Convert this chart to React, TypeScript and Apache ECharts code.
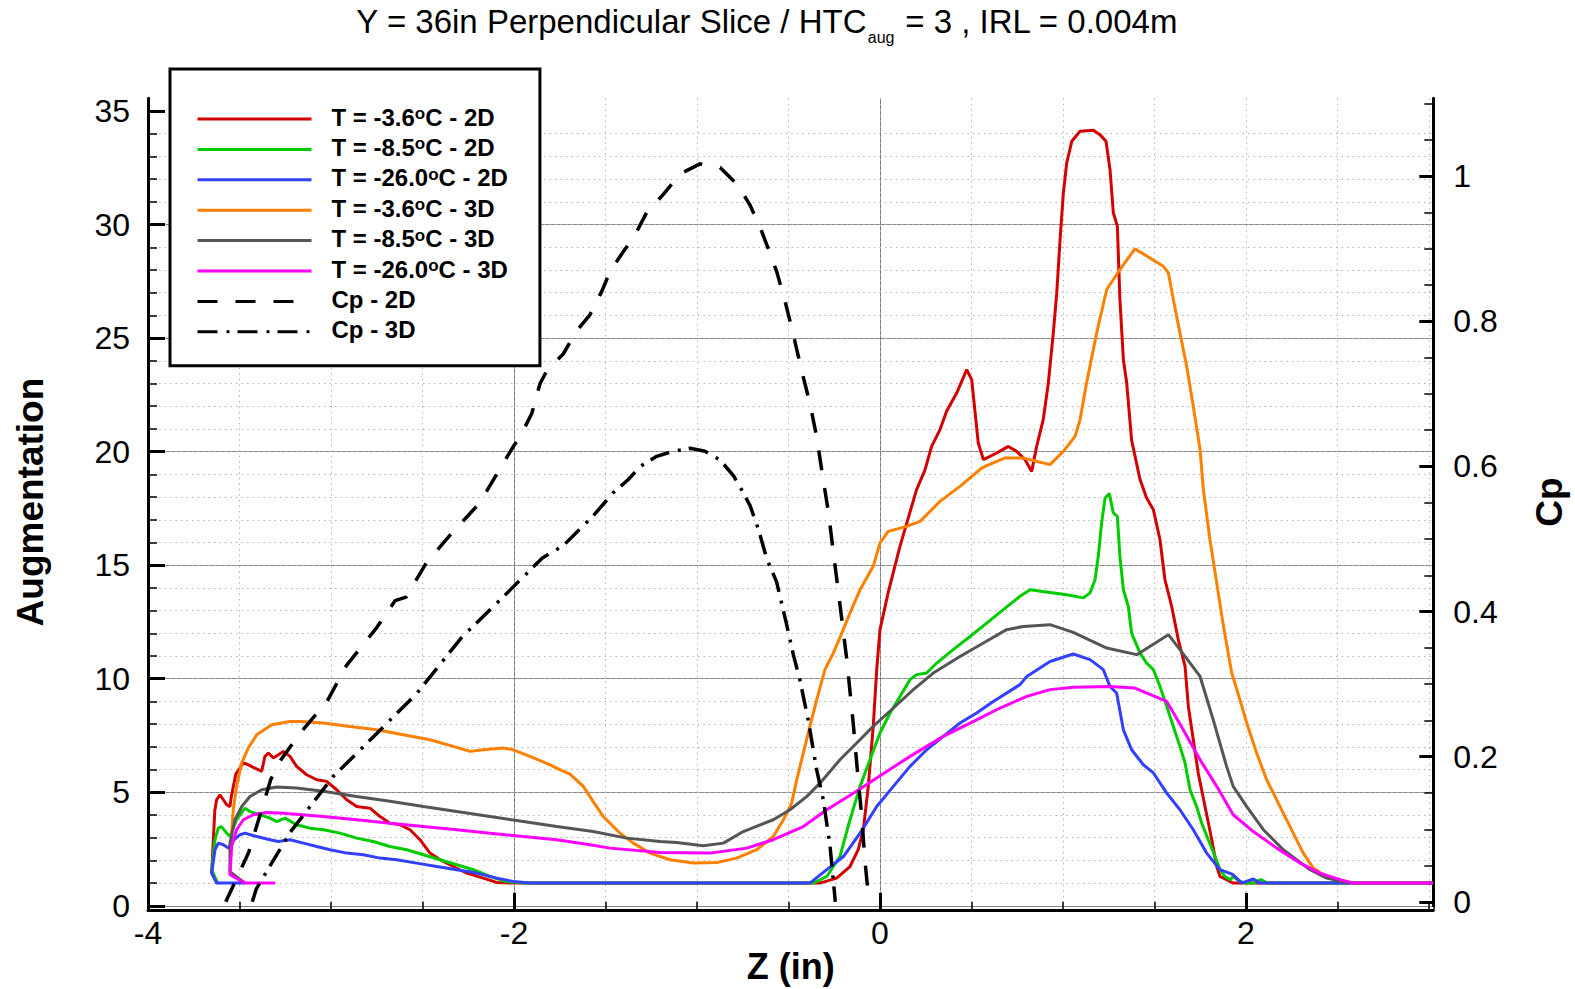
import React, { useEffect, useRef } from 'react';
import * as echarts from 'echarts';

const FONT = '"Liberation Sans", Arial, Helvetica, sans-serif';

// axis extents
const X_MIN = -4;
const X_MAX = 3.0235;
const Y_MAX = 35.56;
const CP_MIN = -0.00546;
const CP_MAX = 1.1074;

const majorX = [-4, -2, 0, 2];
const majorY = [0, 5, 10, 15, 20, 25, 30, 35];
const majorCp = [0, 0.2, 0.4, 0.6, 0.8, 1];
const minorY = Array.from({ length: 36 }, (_, i) => i);
const minorCp = Array.from({ length: 23 }, (_, i) => +(i * 0.05).toFixed(2));

const seriesNames = [
  'T = -3.6°C - 2D',
  'T = -8.5°C - 2D',
  'T = -26.0°C - 2D',
  'T = -3.6°C - 3D',
  'T = -8.5°C - 3D',
  'T = -26.0°C - 3D',
  'Cp - 2D',
  'Cp - 3D',
];
const seriesColors = ['#d40000', '#00cc00', '#3340ff', '#ff8000', '#555555', '#ff00ff', '#000000', '#000000'];

const red2D: number[][] = [
  [-3.62, 1.0], [-3.652, 1.44], [-3.635, 4.2], [-3.625, 4.67], [-3.607, 4.89], [-3.57, 4.45], [-3.552, 4.37],
  [-3.545, 4.8], [-3.52, 5.8], [-3.479, 6.29], [-3.452, 6.21], [-3.379, 5.92], [-3.361, 6.58], [-3.342, 6.73],
  [-3.315, 6.51], [-3.26, 6.8], [-3.224, 6.58], [-3.188, 6.14], [-3.133, 5.77], [-3.078, 5.55], [-3.024, 5.48],
  [-2.969, 5.11], [-2.914, 4.67], [-2.86, 4.37], [-2.787, 4.3], [-2.732, 3.93], [-2.678, 3.64], [-2.623, 3.57],
  [-2.568, 3.35], [-2.514, 2.91], [-2.459, 2.32], [-2.404, 2.03], [-2.332, 1.73], [-2.258, 1.44], [-2.168, 1.22],
  [-2.095, 1.03], [-2.022, 1.0], [-0.328, 1.0], [-0.237, 1.22], [-0.164, 1.73], [-0.119, 2.47], [-0.091, 3.35],
  [-0.064, 5.26], [-0.037, 7.9], [-0.018, 10.4], [0.0, 12.16], [0.045, 13.8], [0.109, 15.83], [0.2, 18.33],
  [0.246, 19.2], [0.282, 20.23], [0.328, 20.97], [0.364, 21.78], [0.419, 22.58], [0.474, 23.61], [0.501, 23.17],
  [0.537, 20.38], [0.565, 19.65], [0.638, 19.94], [0.701, 20.23], [0.747, 20.01], [0.792, 19.65], [0.829, 19.13],
  [0.856, 20.23], [0.892, 21.41], [0.92, 23.03], [0.947, 25.23], [0.966, 27.0], [0.984, 29.34], [1.002, 31.4],
  [1.02, 32.7], [1.048, 33.67], [1.093, 34.11], [1.166, 34.15], [1.202, 33.96], [1.235, 33.67], [1.257, 32.42],
  [1.275, 30.52], [1.297, 29.93], [1.311, 26.7], [1.33, 24.05], [1.348, 23.03], [1.375, 20.5], [1.421, 18.77],
  [1.457, 17.96], [1.494, 17.44], [1.53, 16.12], [1.557, 14.36], [1.594, 13.18], [1.63, 11.72], [1.667, 10.54],
  [1.685, 8.78], [1.712, 7.31], [1.739, 5.85], [1.776, 4.37], [1.813, 2.91], [1.84, 1.73], [1.858, 1.29],
  [1.894, 1.15], [1.93, 1.0], [3.02, 1.0],
];

const green2D: number[][] = [
  [-3.62, 1.0], [-3.652, 1.59], [-3.634, 2.91], [-3.616, 3.42], [-3.598, 3.49], [-3.57, 3.2], [-3.552, 3.05],
  [-3.516, 3.79], [-3.47, 4.3], [-3.443, 4.15], [-3.388, 4.01], [-3.333, 3.86], [-3.297, 3.71], [-3.251, 3.86],
  [-3.188, 3.57], [-3.115, 3.42], [-3.042, 3.35], [-2.951, 3.2], [-2.86, 2.98], [-2.769, 2.83], [-2.678, 2.61],
  [-2.586, 2.47], [-2.495, 2.25], [-2.404, 2.03], [-2.313, 1.81], [-2.222, 1.59], [-2.131, 1.29], [-2.04, 1.07],
  [-1.949, 1.0], [-0.364, 1.0], [-0.291, 1.29], [-0.219, 2.17], [-0.164, 3.79], [-0.109, 5.26], [-0.055, 6.43],
  [0.0, 7.61], [0.055, 8.49], [0.109, 9.22], [0.164, 9.96], [0.2, 10.18], [0.255, 10.25], [0.31, 10.69],
  [0.4, 11.28], [0.492, 11.86], [0.583, 12.45], [0.674, 13.04], [0.765, 13.63], [0.82, 13.92], [0.929, 13.8],
  [1.02, 13.7], [1.111, 13.56], [1.148, 13.78], [1.175, 14.36], [1.193, 15.39], [1.211, 16.86], [1.23, 17.96],
  [1.253, 18.15], [1.275, 17.3], [1.297, 17.15], [1.311, 15.39], [1.33, 13.92], [1.357, 13.18], [1.375, 12.01],
  [1.421, 11.13], [1.457, 10.69], [1.494, 10.4], [1.53, 9.66], [1.567, 8.78], [1.603, 7.9], [1.639, 7.02],
  [1.667, 6.29], [1.694, 5.11], [1.73, 4.37], [1.758, 3.64], [1.794, 2.91], [1.831, 2.17], [1.858, 1.59],
  [1.885, 1.29], [1.913, 1.15], [1.93, 1.29], [1.967, 1.07], [2.0, 1.0], [2.04, 1.0], [2.08, 1.15], [2.12, 1.0],
  [3.02, 1.0],
];

const blue2D: number[][] = [
  [-3.47, 1.0], [-3.625, 1.0], [-3.652, 1.44], [-3.634, 2.47], [-3.616, 2.76], [-3.588, 2.69], [-3.561, 2.54],
  [-3.53, 2.9], [-3.497, 3.13], [-3.47, 3.2], [-3.406, 3.05], [-3.333, 2.91], [-3.288, 2.83], [-3.224, 2.91],
  [-3.151, 2.76], [-3.078, 2.61], [-3.005, 2.47], [-2.914, 2.32], [-2.823, 2.25], [-2.732, 2.1], [-2.641, 2.03],
  [-2.532, 1.88], [-2.422, 1.73], [-2.313, 1.59], [-2.204, 1.44], [-2.095, 1.22], [-2.004, 1.07], [-1.913, 1.0],
  [-0.383, 1.0], [-0.291, 1.59], [-0.2, 2.17], [-0.109, 3.2], [-0.018, 4.37], [0.073, 5.26], [0.164, 6.14],
  [0.255, 6.87], [0.346, 7.46], [0.437, 8.05], [0.528, 8.49], [0.619, 9.0], [0.765, 9.74], [0.802, 10.1],
  [0.929, 10.76], [1.056, 11.09], [1.148, 10.84], [1.22, 10.4], [1.257, 9.66], [1.293, 9.37], [1.33, 7.75],
  [1.375, 6.87], [1.439, 6.21], [1.494, 5.85], [1.567, 4.96], [1.639, 4.23], [1.712, 3.35], [1.785, 2.32],
  [1.858, 1.59], [1.93, 1.37], [1.976, 1.0], [2.04, 1.18], [2.077, 1.0], [3.02, 1.0],
];

const orange3D: number[][] = [
  [-3.47, 1.0], [-3.552, 1.44], [-3.543, 3.2], [-3.534, 4.23], [-3.516, 5.26], [-3.488, 6.29], [-3.452, 6.95],
  [-3.406, 7.53], [-3.324, 7.97], [-3.224, 8.12], [-3.169, 8.12], [-3.042, 8.05], [-2.896, 7.9], [-2.75, 7.75],
  [-2.605, 7.53], [-2.459, 7.31], [-2.332, 7.02], [-2.24, 6.8], [-2.168, 6.87], [-2.058, 6.95], [-2.004, 6.87],
  [-1.913, 6.58], [-1.803, 6.21], [-1.749, 6.0], [-1.694, 5.8], [-1.621, 5.26], [-1.585, 4.81], [-1.512, 3.93],
  [-1.421, 3.2], [-1.348, 2.76], [-1.257, 2.32], [-1.148, 2.03], [-1.02, 1.88], [-0.892, 1.91], [-0.783, 2.1],
  [-0.674, 2.47], [-0.583, 3.05], [-0.528, 3.79], [-0.483, 4.52], [-0.455, 5.55], [-0.419, 6.73], [-0.383, 7.9],
  [-0.346, 9.07], [-0.301, 10.4], [-0.255, 11.13], [-0.209, 12.01], [-0.164, 12.89], [-0.109, 13.92],
  [-0.037, 14.95], [0.0, 15.98], [0.045, 16.49], [0.146, 16.71], [0.219, 16.93], [0.328, 17.81], [0.437, 18.47],
  [0.556, 19.28], [0.683, 19.72], [0.783, 19.72], [0.929, 19.43], [1.002, 20.01], [1.066, 20.67], [1.093, 21.41],
  [1.129, 23.03], [1.184, 25.23], [1.239, 27.14], [1.311, 28.02], [1.393, 28.93], [1.475, 28.53], [1.548, 28.16],
  [1.576, 27.87], [1.603, 26.7], [1.639, 25.23], [1.676, 23.76], [1.712, 22.0], [1.749, 20.09], [1.767, 18.33],
  [1.803, 16.12], [1.84, 14.22], [1.877, 12.3], [1.922, 10.25], [1.967, 9.07], [2.004, 8.05], [2.058, 6.73],
  [2.113, 5.55], [2.186, 4.37], [2.258, 3.2], [2.313, 2.32], [2.368, 1.66], [2.422, 1.37], [2.496, 1.15],
  [2.586, 1.0], [3.02, 1.0],
];

const gray3D: number[][] = [
  [-3.47, 1.0], [-3.552, 1.5], [-3.552, 2.76], [-3.525, 3.79], [-3.488, 4.37], [-3.443, 4.81], [-3.379, 5.11],
  [-3.297, 5.23], [-3.188, 5.19], [-3.042, 5.04], [-2.86, 4.81], [-2.678, 4.6], [-2.495, 4.37], [-2.313, 4.15],
  [-2.131, 3.93], [-1.949, 3.71], [-1.767, 3.49], [-1.567, 3.27], [-1.384, 2.98], [-1.202, 2.83], [-1.111, 2.79],
  [-0.966, 2.64], [-0.856, 2.76], [-0.747, 3.27], [-0.583, 3.79], [-0.492, 4.23], [-0.401, 4.81], [-0.328, 5.4],
  [-0.219, 6.43], [-0.127, 7.17], [-0.037, 7.9], [0.073, 8.71], [0.182, 9.52], [0.291, 10.25], [0.437, 10.98],
  [0.565, 11.57], [0.692, 12.16], [0.783, 12.3], [0.929, 12.38], [1.056, 12.04], [1.239, 11.35], [1.403, 11.06],
  [1.576, 11.94], [1.639, 11.28], [1.749, 10.1], [1.821, 8.19], [1.894, 6.14], [1.93, 5.26], [2.004, 4.37],
  [2.095, 3.35], [2.204, 2.47], [2.35, 1.59], [2.441, 1.22], [2.55, 1.03], [2.6, 1.0], [3.02, 1.0],
];

const magenta3D: number[][] = [
  [-3.306, 1.0], [-3.47, 1.0], [-3.552, 1.37], [-3.543, 2.61], [-3.516, 3.35], [-3.479, 3.79], [-3.424, 4.01],
  [-3.352, 4.11], [-3.26, 4.08], [-3.042, 3.93], [-2.86, 3.79], [-2.678, 3.64], [-2.495, 3.49], [-2.313, 3.35],
  [-2.131, 3.2], [-1.949, 3.05], [-1.767, 2.91], [-1.585, 2.69], [-1.475, 2.54], [-1.202, 2.35], [-0.929, 2.32],
  [-0.728, 2.54], [-0.583, 2.91], [-0.419, 3.49], [-0.291, 4.23], [-0.146, 4.96], [-0.018, 5.63], [0.164, 6.58],
  [0.346, 7.46], [0.528, 8.19], [0.656, 8.71], [0.802, 9.22], [0.929, 9.52], [1.056, 9.62], [1.257, 9.66],
  [1.393, 9.59], [1.567, 9.0], [1.657, 7.75], [1.749, 6.43], [1.84, 5.26], [1.93, 4.01], [2.04, 3.27],
  [2.168, 2.54], [2.295, 1.88], [2.404, 1.44], [2.514, 1.15], [2.586, 1.0], [3.02, 1.0],
];

const cp2D: number[][] = [
  [-3.575, 0.0], [-3.45, 0.068], [-3.33, 0.168], [-3.29, 0.19], [-3.17, 0.232], [-3.02, 0.277], [-2.915, 0.326],
  [-2.75, 0.378], [-2.65, 0.415], [-2.59, 0.42], [-2.48, 0.467], [-2.34, 0.508], [-2.19, 0.549], [-2.0, 0.629],
  [-1.967, 0.641], [-1.903, 0.673], [-1.858, 0.714], [-1.821, 0.732], [-1.731, 0.755], [-1.657, 0.787],
  [-1.585, 0.809], [-1.521, 0.841], [-1.475, 0.869], [-1.403, 0.896], [-1.339, 0.919], [-1.275, 0.95],
  [-1.184, 0.975], [-1.093, 1.003], [-0.984, 1.017], [-0.874, 1.012], [-0.774, 0.987], [-0.71, 0.96],
  [-0.656, 0.93], [-0.61, 0.9], [-0.565, 0.869], [-0.519, 0.828], [-0.474, 0.782], [-0.428, 0.732],
  [-0.383, 0.687], [-0.346, 0.641], [-0.319, 0.596], [-0.282, 0.537], [-0.255, 0.482], [-0.219, 0.41],
  [-0.182, 0.335], [-0.146, 0.245], [-0.119, 0.168], [-0.1, 0.118], [-0.082, 0.056], [-0.064, 0.01], [-0.06, 0.0],
];

const cp3D: number[][] = [
  [-3.43, 0.0], [-3.408, 0.018], [-3.224, 0.0955], [-2.987, 0.173], [-2.75, 0.232], [-2.532, 0.287],
  [-2.284, 0.365], [-2.064, 0.419], [-1.845, 0.474], [-1.73, 0.491], [-1.639, 0.514], [-1.567, 0.532],
  [-1.457, 0.564], [-1.375, 0.582], [-1.311, 0.6], [-1.22, 0.614], [-1.13, 0.621], [-1.038, 0.625],
  [-0.956, 0.621], [-0.874, 0.609], [-0.8, 0.587], [-0.747, 0.564], [-0.71, 0.546], [-0.665, 0.514],
  [-0.619, 0.473], [-0.565, 0.441], [-0.51, 0.382], [-0.474, 0.341], [-0.437, 0.305], [-0.392, 0.25],
  [-0.346, 0.182], [-0.31, 0.141], [-0.273, 0.077], [-0.246, 0.005], [-0.245, 0.0],
];

const seriesData = [red2D, green2D, blue2D, orange3D, gray3D, magenta3D, cp2D, cp3D];
const seriesDash: any[] = ['solid', 'solid', 'solid', 'solid', 'solid', 'solid', [20, 18], [20, 9, 3, 8]];

function buildOption(): any {
  const isMult = (v: number, arr: number[]) => arr.some((a) => Math.abs(a - v) < 1e-6);
  const tickLabel = { color: '#000', fontFamily: FONT, fontSize: 32 };
  const nameStyle = { color: '#000', fontFamily: FONT, fontSize: 37, fontWeight: 'bold' };
  const dotted = { color: '#b4b4b4', width: 1, type: [1.5, 4] };

  const series = seriesNames.map((name, i) => ({
    type: 'line',
    name,
    data: seriesData[i],
    xAxisIndex: 0,
    yAxisIndex: i >= 6 ? 2 : 0,
    symbol: 'none',
    showSymbol: false,
    clip: true,
    silent: true,
    emphasis: { disabled: true },
    color: seriesColors[i],
    lineStyle: { color: seriesColors[i], width: i >= 6 ? 3.5 : 3, type: seriesDash[i], cap: 'butt' },
    itemStyle: { color: seriesColors[i] },
  }));

  return {
    animation: false,
    backgroundColor: '#ffffff',
    grid: {
      left: 148,
      right: 141.7,
      top: 98.3,
      bottom: 83.2,
      containLabel: false,
      outerBoundsMode: 'none',
    },
    graphic: [
      {
        type: 'text',
        x: 767,
        y: 5,
        silent: true,
        style: {
          text: '{m|Y = 36in Perpendicular Slice / HTC}{b|aug}{m| = 3 , IRL = 0.004m}',
          align: 'center',
          verticalAlign: 'top',
          fill: '#000',
          fontFamily: FONT,
          fontSize: 33,
          rich: {
            m: { fontFamily: FONT, fontSize: 33, lineHeight: 37, verticalAlign: 'top', fill: '#000' },
            b: { fontFamily: FONT, fontSize: 16, lineHeight: 16, verticalAlign: 'top', padding: [24, 1, 0, 1], fill: '#000' },
          },
        },
      },
    ],
    legend: {
      show: true,
      orient: 'vertical',
      left: 170,
      top: 69,
      padding: [36, 32, 22, 26],
      itemGap: 4.4,
      itemWidth: 114,
      itemHeight: 14,
      selectedMode: false,
      backgroundColor: '#ffffff',
      borderColor: '#000000',
      borderWidth: 3,
      borderRadius: 0,
      z: 10,
      data: seriesNames,
      lineStyle: { width: 3 },
      itemStyle: { opacity: 0, borderWidth: 0 },
      formatter: (name: string) => {
        const k = name.indexOf('°');
        if (k < 0) return `{sp| }{t|${name}}`;
        return `{sp| }{t|${name.slice(0, k)}}{s|o}{t|${name.slice(k + 1)}}`;
      },
      textStyle: {
        color: '#000',
        fontFamily: FONT,
        fontWeight: 'bold',
        fontSize: 24,
        rich: {
          sp: { width: 15, fontSize: 24, lineHeight: 28 },
          t: { color: '#000', fontFamily: FONT, fontWeight: 'bold', fontSize: 24, lineHeight: 28, verticalAlign: 'top' },
          s: { color: '#000', fontFamily: FONT, fontWeight: 'bold', fontSize: 17, lineHeight: 10, verticalAlign: 'top' },
        },
      },
    },
    xAxis: [
      {
        type: 'value',
        min: X_MIN,
        max: X_MAX,
        interval: 2,
        position: 'bottom',
        offset: 4,
        name: 'Z (in)',
        nameLocation: 'middle',
        nameGap: 38,
        nameMoveOverlap: false,
        nameTextStyle: { ...nameStyle, fontSize: 36, lineHeight: 38 },
        axisLine: { show: true, onZero: false, lineStyle: { color: '#000', width: 3 } },
        axisTick: { show: true, inside: true, length: 17, customValues: majorX, lineStyle: { color: '#000', width: 3 } },
        axisLabel: {
          ...tickLabel,
          margin: 7,
          customValues: majorX,
          formatter: (v: number) => (isMult(v, majorX) ? String(v) : ''),
        },
        splitLine: { show: true, showMaxLine: false, lineStyle: { color: '#7a7a7a', width: 1 } },
      },
      {
        type: 'value',
        min: X_MIN,
        max: X_MAX,
        interval: 0.5,
        position: 'bottom',
        offset: 4,
        axisLine: { show: false, onZero: false },
        axisTick: { show: true, inside: true, length: 8, lineStyle: { color: '#000', width: 1.5 } },
        axisLabel: { show: false },
        splitLine: { show: true, showMinLine: false, showMaxLine: false, lineStyle: dotted },
      },
    ],
    yAxis: [
      {
        type: 'value',
        min: 0,
        max: Y_MAX,
        interval: 5,
        position: 'left',
        name: 'Augmentation',
        nameLocation: 'middle',
        nameGap: 99,
        nameRotate: 90,
        nameMoveOverlap: false,
        nameTextStyle: nameStyle,
        axisLine: { show: true, onZero: false, lineStyle: { color: '#000', width: 3 } },
        axisTick: { show: true, inside: true, length: 17, customValues: majorY, lineStyle: { color: '#000', width: 3 } },
        axisLabel: {
          ...tickLabel,
          margin: 18,
          customValues: majorY,
          formatter: (v: number) => (isMult(v, majorY) ? String(v) : ''),
        },
        splitLine: { show: true, showMaxLine: false, lineStyle: { color: '#8a8a8a', width: 1 } },
      },
      {
        type: 'value',
        min: 0,
        max: Y_MAX,
        interval: 1,
        position: 'left',
        axisLine: { show: false, onZero: false },
        axisTick: { show: true, inside: true, length: 9, customValues: minorY, lineStyle: { color: '#000', width: 1.5 } },
        axisLabel: { show: false },
        splitLine: { show: true, showMinLine: false, showMaxLine: false, lineStyle: dotted },
      },
      {
        type: 'value',
        min: CP_MIN,
        max: CP_MAX,
        position: 'right',
        name: 'Cp',
        nameLocation: 'middle',
        nameGap: 98,
        nameRotate: 90,
        nameMoveOverlap: false,
        nameTextStyle: nameStyle,
        axisLine: { show: true, onZero: false, lineStyle: { color: '#000', width: 3 } },
        axisTick: { show: true, inside: true, length: 14, customValues: majorCp, lineStyle: { color: '#000', width: 3 } },
        axisLabel: {
          ...tickLabel,
          margin: 20,
          customValues: majorCp,
          formatter: (v: number) => (isMult(v, majorCp) ? String(+v.toFixed(2)) : ''),
        },
        splitLine: { show: false },
      },
      {
        type: 'value',
        min: CP_MIN,
        max: CP_MAX,
        position: 'right',
        axisLine: { show: false, onZero: false },
        axisTick: { show: true, inside: true, length: 9, customValues: minorCp, lineStyle: { color: '#000', width: 1.5 } },
        axisLabel: { show: false },
        splitLine: { show: false },
      },
    ],
    series,
  };
}

export default function App() {
  const ref = useRef<HTMLDivElement>(null);
  useEffect(() => {
    if (!ref.current) return;
    const chart = echarts.init(ref.current, undefined, { renderer: 'svg' });
    chart.setOption(buildOption());
    return () => chart.dispose();
  }, []);
  return (
    <div
      ref={ref}
      style={{ position: 'absolute', left: 0, top: 0, width: 1575, height: 989, background: '#fff' }}
    />
  );
}
